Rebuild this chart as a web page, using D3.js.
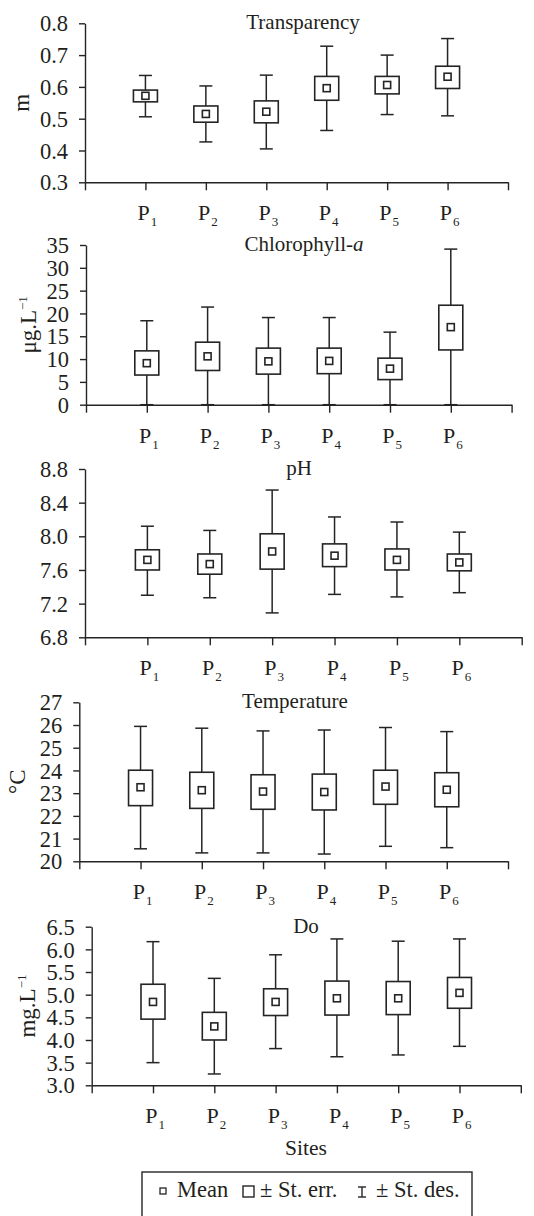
<!DOCTYPE html>
<html>
<head>
<meta charset="utf-8">
<script src="https://cdnjs.cloudflare.com/ajax/libs/d3/7.8.5/d3.min.js"></script>
<style>
  body { margin: 0; background: #fff; }
  svg text { font-family: "Liberation Serif", "Times New Roman", Tinos, "DejaVu Serif", serif !important; fill: #231f20; }
</style>
</head>
<body>
<div id="myPlot"></div>
<script>
//----------------------------------------------------------------------------------------------------
// data (mean, +/- standard error box, +/- standard deviation whiskers)
var sites = ["1", "2", "3", "4", "5", "6"];

var transMean = [0.572, 0.515, 0.522, 0.596, 0.606, 0.632];
var transSeLo = [0.553, 0.489, 0.487, 0.558, 0.578, 0.595];
var transSeHi = [0.590, 0.540, 0.556, 0.633, 0.633, 0.665];
var transSdLo = [0.506, 0.427, 0.405, 0.463, 0.513, 0.509];
var transSdHi = [0.636, 0.603, 0.637, 0.728, 0.700, 0.752];
var transTicks = [0.3, 0.4, 0.5, 0.6, 0.7, 0.8];

var chlMean = [9.1, 10.6, 9.5, 9.6, 7.9, 17.0];
var chlSeLo = [6.5, 7.5, 6.7, 6.8, 5.5, 12.0];
var chlSeHi = [11.8, 13.7, 12.4, 12.4, 10.2, 21.8];
var chlSdLo = [0, 0, 0, 0, 0, 0];
var chlSdHi = [18.4, 21.4, 19.1, 19.1, 15.9, 34.1];
var chlTicks = [0, 5, 10, 15, 20, 25, 30, 35];

var phMean = [7.72, 7.67, 7.82, 7.77, 7.72, 7.69];
var phSeLo = [7.60, 7.55, 7.61, 7.64, 7.60, 7.59];
var phSeHi = [7.84, 7.79, 8.03, 7.91, 7.85, 7.79];
var phSdLo = [7.30, 7.27, 7.09, 7.31, 7.28, 7.33];
var phSdHi = [8.12, 8.07, 8.55, 8.23, 8.17, 8.05];
var phTicks = [6.8, 7.2, 7.6, 8.0, 8.4, 8.8];

var tempMean = [23.26, 23.13, 23.07, 23.05, 23.29, 23.15];
var tempSeLo = [22.45, 22.33, 22.29, 22.26, 22.51, 22.40];
var tempSeHi = [24.01, 23.92, 23.81, 23.84, 24.01, 23.90];
var tempSdLo = [20.55, 20.37, 20.37, 20.32, 20.66, 20.60];
var tempSdHi = [25.94, 25.86, 25.74, 25.78, 25.89, 25.71];
var tempTicks = [20, 21, 22, 23, 24, 25, 26, 27];

var doMean = [4.84, 4.30, 4.84, 4.92, 4.92, 5.04];
var doSeLo = [4.46, 4.00, 4.54, 4.55, 4.56, 4.70];
var doSeHi = [5.23, 4.61, 5.13, 5.30, 5.29, 5.38];
var doSdLo = [3.50, 3.25, 3.81, 3.63, 3.67, 3.86];
var doSdHi = [6.17, 5.36, 5.88, 6.23, 6.18, 6.23];
var doTicks = [3.0, 3.5, 4.0, 4.5, 5.0, 5.5, 6.0, 6.5];

//----------------------------------------------------------------------------------------------------
// panel layout (pixel boxes of each small plot)
var panels = [
  { title: [["Transparency", "normal"]], unit: ["m", ""], unitX: 21, titleX: 303, fmt: ".1f",
    mean: transMean, seLo: transSeLo, seHi: transSeHi, sdLo: transSdLo, sdHi: transSdHi, ticks: transTicks,
    left: 85, right: 508, top: 23.3, bottom: 182.3 },
  { title: [["Chlorophyll-", "normal"], ["a", "italic"]], unit: ["\u03bcg.L", "\u22121"], unitX: 28, titleX: 304, fmt: "d",
    mean: chlMean, seLo: chlSeLo, seHi: chlSeHi, sdLo: chlSdLo, sdHi: chlSdHi, ticks: chlTicks,
    left: 86, right: 511.6, top: 245, bottom: 404.7 },
  { title: [["pH", "normal"]], unit: null, unitX: 0, titleX: 299, fmt: ".1f",
    mean: phMean, seLo: phSeLo, seHi: phSeHi, sdLo: phSdLo, sdHi: phSdHi, ticks: phTicks,
    left: 85, right: 521.7, top: 469, bottom: 637.3 },
  { title: [["Temperature", "normal"]], unit: ["\u00b0C", ""], unitX: 17, titleX: 295, fmt: "d",
    mean: tempMean, seLo: tempSeLo, seHi: tempSeHi, sdLo: tempSdLo, sdHi: tempSdHi, ticks: tempTicks,
    left: 79.3, right: 508, top: 702.3, bottom: 861.3 },
  { title: [["Do", "normal"]], unit: ["mg.L", "\u22121"], unitX: 27, titleX: 306, fmt: ".1f",
    mean: doMean, seLo: doSeLo, seHi: doSeHi, sdLo: doSdLo, sdHi: doSdHi, ticks: doTicks,
    left: 91.7, right: 520.8, top: 926.7, bottom: 1085.3 }
];

var ink = "#262324";
var serif = "'Liberation Serif', 'Times New Roman', Tinos, 'DejaVu Serif', serif";

// append the svg object to the body of the page
var svg = d3.select("#myPlot")
  .append("svg")
  .attr("width", 534)
  .attr("height", 1216)
  .style("font-family", serif);

//----------------------------------------------------------------------------------------------------
panels.forEach(function (p) {
  var g = svg.append("g");

  var x = d3.scaleLinear().domain([0, sites.length + 1]).range([p.left, p.right]);
  var y = d3.scaleLinear().domain([p.ticks[0], p.ticks[p.ticks.length - 1]]).range([p.bottom, p.top]);

  // x axis: ticks at both ends and under every site
  var xAxis = g.append("g")
    .attr("transform", "translate(0," + p.bottom + ")")
    .call(d3.axisBottom(x).tickValues(d3.range(0, sites.length + 2)).tickFormat("").tickSize(8).tickSizeOuter(0));
  xAxis.attr("font-family", null);
  xAxis.selectAll("path, line").attr("stroke", ink).attr("stroke-width", 1.4);

  // y axis
  var yAxis = g.append("g")
    .attr("transform", "translate(" + p.left + ",0)")
    .call(d3.axisLeft(y).tickValues(p.ticks).tickFormat(d3.format(p.fmt)).tickSize(6).tickSizeOuter(0).tickPadding(11));
  yAxis.attr("font-family", null).attr("font-size", null);
  yAxis.selectAll("path, line").attr("stroke", ink).attr("stroke-width", 1.4);
  yAxis.selectAll("text")
    .style("font-family", serif)
    .attr("font-size", 22.5)
    .attr("dy", "0.34em")
    .attr("fill", ink);

  // site labels P with subscript
  var lab = g.selectAll(".site")
    .data(sites)
    .enter().append("text")
    .attr("x", function (d, i) { return x(i + 1) + 2; })
    .attr("y", p.bottom + 38)
    .attr("text-anchor", "middle")
    .attr("font-size", 22);
  lab.append("tspan").text("P");
  lab.append("tspan").attr("font-size", 13).attr("dx", 1).attr("dy", 6).text(function (d) { return d; });

  // title
  var t = g.append("text")
    .attr("x", p.titleX)
    .attr("y", p.top + 6)
    .attr("text-anchor", "middle")
    .attr("font-size", 21);
  p.title.forEach(function (part) {
    t.append("tspan").attr("font-style", part[1]).text(part[0]);
  });

  // unit label
  if (p.unit) {
    var u = g.append("text")
      .attr("transform", "translate(" + p.unitX + "," + ((p.top + p.bottom) / 2) + ") rotate(-90)")
      .attr("text-anchor", "middle")
      .attr("dy", "0.35em")
      .attr("font-size", 23);
    u.append("tspan").text(p.unit[0]);
    if (p.unit[1]) {
      u.append("tspan").attr("font-size", 13).attr("dy", -9).text(p.unit[1]);
    }
  }

  // whiskers (+/- st. des.)
  var items = g.selectAll(".item")
    .data(sites)
    .enter().append("g");

  items.append("line")
    .attr("x1", function (d, i) { return x(i + 1); })
    .attr("x2", function (d, i) { return x(i + 1); })
    .attr("y1", function (d, i) { return y(p.sdLo[i]); })
    .attr("y2", function (d, i) { return y(p.sdHi[i]); })
    .attr("stroke", ink).attr("stroke-width", 1.5);

  [p.sdLo, p.sdHi].forEach(function (arr) {
    items.append("line")
      .attr("x1", function (d, i) { return x(i + 1) - 6.5; })
      .attr("x2", function (d, i) { return x(i + 1) + 6.5; })
      .attr("y1", function (d, i) { return y(arr[i]); })
      .attr("y2", function (d, i) { return y(arr[i]); })
      .attr("stroke", ink).attr("stroke-width", 1.5);
  });

  // box (+/- st. err.)
  items.append("rect")
    .attr("x", function (d, i) { return x(i + 1) - 12; })
    .attr("width", 24)
    .attr("y", function (d, i) { return y(p.seHi[i]); })
    .attr("height", function (d, i) { return y(p.seLo[i]) - y(p.seHi[i]); })
    .attr("fill", "#fff").attr("stroke", ink).attr("stroke-width", 1.6);

  // mean
  items.append("rect")
    .attr("x", function (d, i) { return x(i + 1) - 3.5; })
    .attr("y", function (d, i) { return y(p.mean[i]) - 3.5; })
    .attr("width", 7).attr("height", 7)
    .attr("fill", "#fff").attr("stroke", ink).attr("stroke-width", 1.6);
});

//----------------------------------------------------------------------------------------------------
// x axis title
svg.append("text")
  .attr("x", 306)
  .attr("y", 1155)
  .attr("text-anchor", "middle")
  .attr("font-size", 21.5)
  .text("Sites");

// legend
var leg = svg.append("g");
leg.append("rect")
  .attr("x", 142).attr("y", 1172)
  .attr("width", 330).attr("height", 60)
  .attr("fill", "none").attr("stroke", ink).attr("stroke-width", 1.4);

leg.append("rect")
  .attr("x", 160).attr("y", 1188).attr("width", 6).attr("height", 6)
  .attr("fill", "#fff").attr("stroke", ink).attr("stroke-width", 1.3);
leg.append("text").attr("x", 177).attr("y", 1197).attr("font-size", 22.5).text("Mean");

leg.append("rect")
  .attr("x", 243).attr("y", 1186).attr("width", 11).attr("height", 11)
  .attr("fill", "#fff").attr("stroke", ink).attr("stroke-width", 1.4);
leg.append("text").attr("x", 260).attr("y", 1197).attr("font-size", 22.5).text("\u00b1 St. err.");

leg.append("line").attr("x1", 362).attr("x2", 362).attr("y1", 1187).attr("y2", 1197)
  .attr("stroke", ink).attr("stroke-width", 1.4);
leg.append("line").attr("x1", 358).attr("x2", 366).attr("y1", 1187).attr("y2", 1187)
  .attr("stroke", ink).attr("stroke-width", 1.4);
leg.append("line").attr("x1", 358).attr("x2", 366).attr("y1", 1197).attr("y2", 1197)
  .attr("stroke", ink).attr("stroke-width", 1.4);
leg.append("text").attr("x", 376).attr("y", 1197).attr("font-size", 22.5).text("\u00b1 St. des.");
</script>
</body>
</html>
